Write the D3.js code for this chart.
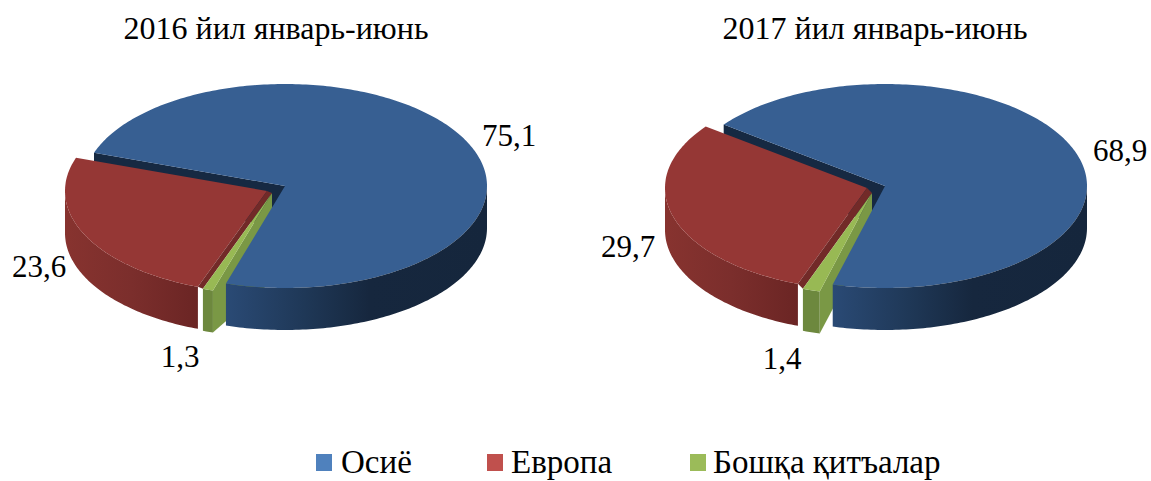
<!DOCTYPE html>
<html><head><meta charset="utf-8">
<script src="https://cdn.jsdelivr.net/npm/d3@7"></script>
<style>html,body{margin:0;background:#fff}svg{display:block}text{font-family:"Liberation Serif","Times New Roman",serif;fill:#000}</style>
</head><body><svg id="c" width="1151" height="481"></svg>
<script>
const categories = ["Осиё","Европа","Бошқа қитъалар"];
const titles = ["2016 йил январь-июнь","2017 йил январь-июнь"];
const values2016 = [75.1,23.6,1.3];
const values2017 = [68.9,29.7,1.4];
const labels2016 = ["75,1","23,6","1,3"];
const labels2017 = ["68,9","29,7","1,4"];
const legendColors = ["#4f81bd","#c0504d","#9bbb59"];

const rx=202, ry=102, depth=42;
const rad=d=>d*Math.PI/180;
const svg=d3.select("#c");
const defs=svg.append("defs");
function grad(id,stops,x1,x2){
  const g=defs.append("linearGradient").attr("id",id).attr("gradientUnits","userSpaceOnUse")
    .attr("x1",x1).attr("x2",x2).attr("y1",0).attr("y2",0);
  stops.forEach(s=>g.append("stop").attr("offset",s[0]).attr("stop-color",s[1]));
  return `url(#${id})`;
}
const pies=[
 {key:"a",title:titles[0],tx:276,values:values2016,labels:labels2016,
  start:289,warp:[197,200],
  blue:[285,186],red:[267,191],green:[272,193],greenApexDepth:88,
  lab:[[509,137],[39,268],[180,358]]},
 {key:"b",title:titles[1],tx:875,values:values2017,labels:labels2017,
  start:307,warp:[195,200],
  blue:[885,186],red:[867,188],green:[872,193],greenApexDepth:42,
  lab:[[1120,152],[628,248],[782,360]]}
];
const line=d3.line();
function drawPie(p){
  // share -> projected angle, piecewise because of the perspective of the 3-D view
  const c1=p.values[0], c2=c1+p.values[2];
  const ang=d3.scaleLinear().domain([0,c1,c2,100])
     .range([p.start,p.warp[0]+360,p.warp[1]+360,p.start+360]);
  const a0=ang(0),a1=ang(c1),a2=ang(c2),a3=ang(100);
  const pt=(c,a,dy=0)=>[c[0]+rx*Math.sin(rad(a)),c[1]-ry*Math.cos(rad(a))+dy];
  const arcPts=(c,s,e,dy=0)=>{const n=Math.max(2,Math.ceil(Math.abs(e-s)));
     return d3.range(n+1).map(i=>pt(c,s+(e-s)*i/n,dy));};
  const sector=(c,s,e)=>line([c,...arcPts(c,s,e)])+"Z";
  const rim=(c,s,e)=>line([...arcPts(c,s,e),...arcPts(c,e,s,depth)])+"Z";
  const g=svg.append("g");
  const B=p.blue,R=p.red,G=p.green;

  // blue cut wall on the left of the apex
  const bc=pt(B,a0);
  g.append("path").attr("fill","#162942")
   .attr("d",line([bc,B,[B[0],B[1]+depth],[bc[0],bc[1]+depth]])+"Z");
  // green side wall
  const ge=pt(G,a1);
  g.append("path").attr("fill","#7a9845")
   .attr("d",line([G,ge,[ge[0],ge[1]+depth],[G[0],G[1]+p.greenApexDepth]])+"Z");
  // blue top and rim
  g.append("path").attr("fill","#375f92").attr("d",sector(B,a0,a1));
  const x0=pt(B,a1)[0];
  g.append("path").attr("d",rim(B,a1-360>90?a1-360:90,90))
   .attr("fill",grad("bl"+p.key,[[0,"#2a4a75"],[.3,"#1f3857"],[.55,"#16273e"],[1,"#15263c"]],x0,B[0]+rx));
  // red
  const re=pt(R,a2);
  g.append("path").attr("d",rim(R,270,a2-360))
   .attr("fill",grad("rd"+p.key,[[0,"#87332f"],[.5,"#7b2e2c"],[1,"#6b2524"]],R[0]-rx,re[0]));
  g.append("path").attr("fill","#953735").attr("d",sector(R,a2-360,a3-360));
  const gs=pt(G,a2);
  g.append("path").attr("fill","#722a28").attr("d",line([R,re,gs,G])+"Z");
  // green rim and top
  g.append("path").attr("fill","#6d883e").attr("d",rim(G,a2-360,a1-360));
  g.append("path").attr("fill","#98b954").attr("d",sector(G,a1-360,a2-360));

  g.append("text").attr("x",p.tx).attr("y",39).attr("text-anchor","middle")
    .attr("font-size",32).text(p.title);
  p.labels.forEach((t,i)=>g.append("text").attr("x",p.lab[i][0]).attr("y",p.lab[i][1]+9)
    .attr("text-anchor","middle").attr("font-size",31).text(t));
}
pies.forEach(drawPie);

const legendX=[316,487,690];
const lg=svg.append("g");
categories.forEach((c,i)=>{
  lg.append("rect").attr("x",legendX[i]).attr("y",454).attr("width",16).attr("height",17).attr("fill",legendColors[i]);
  lg.append("text").attr("x",legendX[i]+(i==2?23:i==1?24:25)).attr("y",473).attr("font-size",33).text(c);
});
</script></body></html>
